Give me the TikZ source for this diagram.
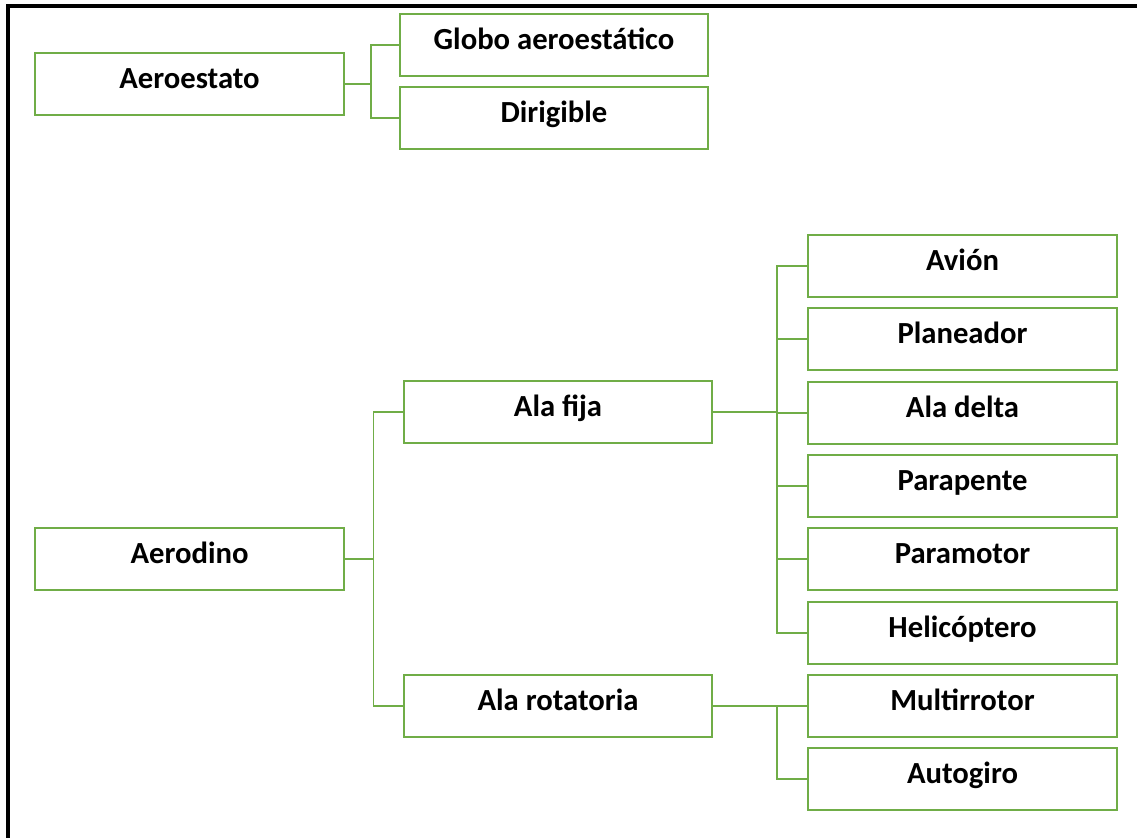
\documentclass[tikz,border=0pt]{standalone}
\usepackage{fontspec}
\setmainfont{Carlito}
\usetikzlibrary{positioning}
\definecolor{leafgreen}{HTML}{70AD47}
\tikzset{
  item/.style={draw=leafgreen, line width=1.5pt, fill=white, inner sep=0,
    minimum width=231.5pt, minimum height=46.5pt,
    text height=0.8em, text depth=0.12em,
    font=\bfseries\fontsize{23}{26}\selectfont},
  link/.style={draw=leafgreen, line width=1.4pt},
}
% elbow from a parent to one child, spine at #2 right of the parent
\newcommand\branch[3]{
    \draw [link] (#1.east) -- ++(#2,0) |- (#3.west);
}

\begin{document}
\begin{tikzpicture}[x=0.75pt, y=-0.75pt]

\useasboundingbox (0,0) rectangle (1137,838);

% Frame
\draw [line width=2.4pt] (1137,6) -- (8,6) -- (8,838);

% Aeroestato
\node [item] (aeroestato) at (189.5,84)  {Aeroestato};
\node [item] (globo)      at (554,45)    {Globo aeroestático};
\node [item, below=7pt of globo] (dirigible) {Dirigible};

% Aerodino
\node [item] (aerodino)   at (189.5,559) {Aerodino};
\node [item] (alafija)    at (558,412)   {Ala fija};
\node [item] (alarot)     at (558,706)   {Ala rotatoria};

% Ala fija
\node [item] (avion)      at (962.5,266) {Avión};
\node [item, below=7pt of avion]     (planeador)   {Planeador};
\node [item, below=7pt of planeador] (aladelta)    {Ala delta};
\node [item, below=7pt of aladelta]  (parapente)   {Parapente};
\node [item, below=7pt of parapente] (paramotor)   {Paramotor};
\node [item, below=7pt of paramotor] (helicoptero) {Helicóptero};

% Ala rotatoria
\node [item, below=7pt of helicoptero] (multirrotor) {Multirrotor};
\node [item, below=7pt of multirrotor] (autogiro)    {Autogiro};

% Connectors
\foreach \c in {globo, dirigible} {
  \branch{aeroestato}{19.5pt}{\c}
}
\foreach \c in {alafija, alarot} {
  \branch{aerodino}{21.5pt}{\c}
}
\foreach \c in {avion, planeador, aladelta, parapente, paramotor, helicoptero} {
  \branch{alafija}{48pt}{\c}
}
\foreach \c in {multirrotor, autogiro} {
  \branch{alarot}{48pt}{\c}
}

\end{tikzpicture}
\end{document}
